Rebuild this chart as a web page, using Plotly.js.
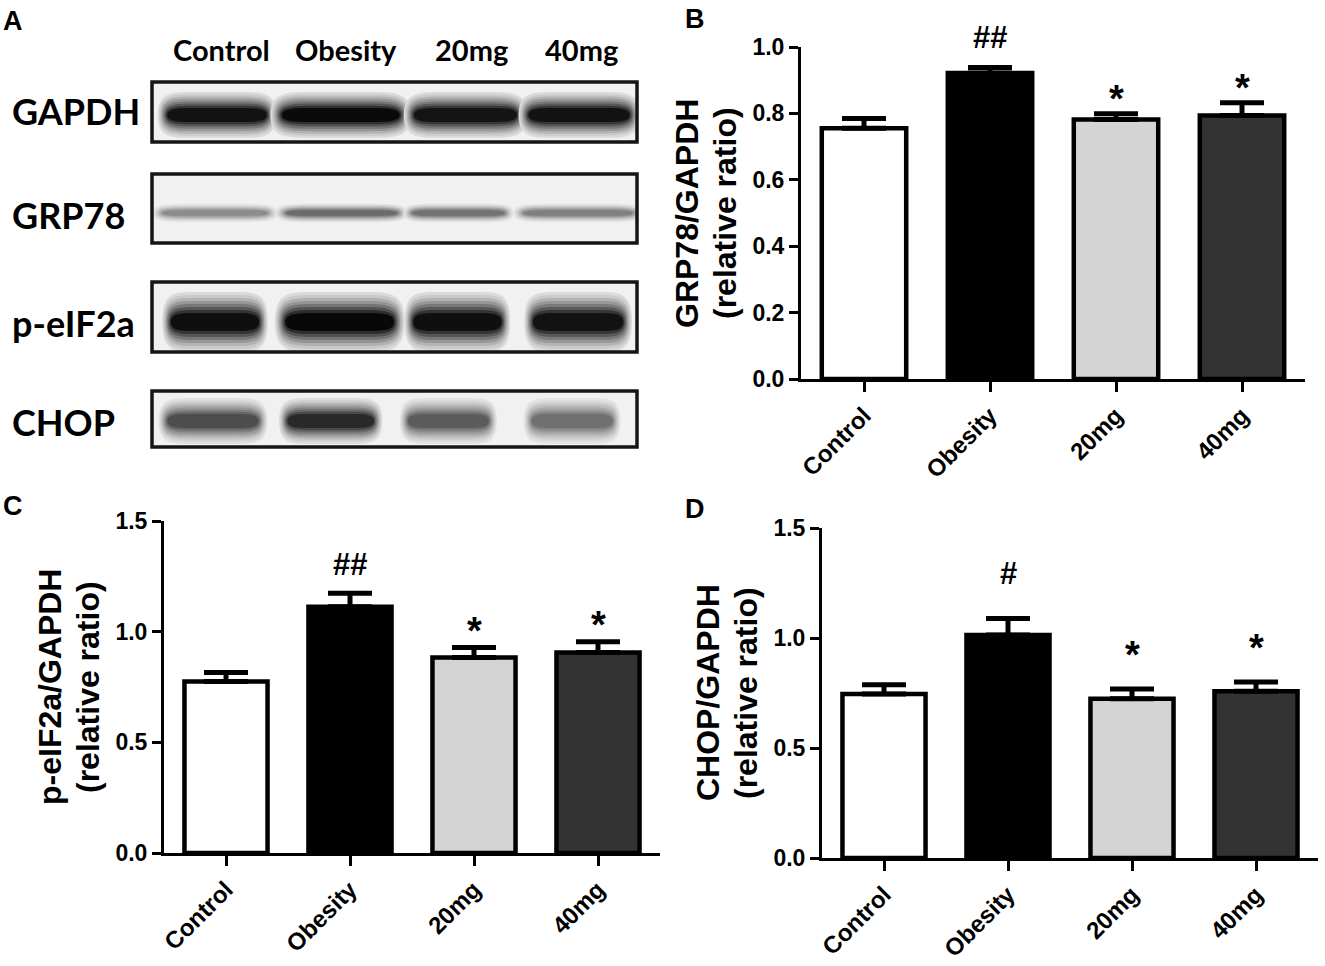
<!DOCTYPE html>
<html><head><meta charset="utf-8">
<script src="https://cdn.plot.ly/plotly-3.0.1.min.js"></script>
<style>html,body{margin:0;padding:0;background:#fff}</style>
</head><body>
<div id="chart" style="width:1325px;height:966px"></div>
<script>
// ---------------- data ----------------
const groups = ['Control', 'Obesity', '20mg', '40mg'];
const barColors = ['#ffffff', '#000000', '#d4d4d4', '#333333'];

// Panel B: GRP78/GAPDH
const grp78Mean = [0.755, 0.922, 0.782, 0.794];
const grp78Err  = [0.030, 0.016, 0.017, 0.038];
const grp78Sig  = ['', '##', '*', '*'];

// Panel C: p-eIF2a/GAPDH
const peif2aMean = [0.775, 1.113, 0.883, 0.906];
const peif2aErr  = [0.040, 0.061, 0.045, 0.049];
const peif2aSig  = ['', '##', '*', '*'];

// Panel D: CHOP/GAPDH
const chopMean = [0.746, 1.014, 0.724, 0.758];
const chopErr  = [0.042, 0.075, 0.044, 0.042];
const chopSig  = ['', '#', '*', '*'];

// Panel A: western blot band darkness (0 = blank, 1 = black)
const proteins = ['GAPDH', 'GRP78', 'p-eIF2a', 'CHOP'];
const gapdhBand  = [0.93, 0.96, 0.92, 0.93];
const grp78Band  = [0.45, 0.58, 0.55, 0.50];
const peif2aBand = [0.94, 0.97, 0.94, 0.93];
const chopBand   = [0.70, 0.84, 0.64, 0.56];

// ---------------- layout helpers ----------------
const W = 1325, H = 966;
const PX = (a, b) => [a / W, b / W];
const PY = (top, bottom) => [1 - bottom / H, 1 - top / H];
const FONT = 'Liberation Sans, Arial, Helvetica, sans-serif';
const BLOTFONT = 'Lato, Open Sans, sans-serif';

function barTrace(mean, err, xa, ya) {
  return {
    type: 'bar', x: groups, y: mean, xaxis: xa, yaxis: ya, width: 0.67,
    marker: { color: barColors, line: { color: '#000', width: 4.5 } },
    error_y: { type: 'data', symmetric: false, array: err, arrayminus: err.map(() => 0),
               color: '#000', thickness: 5, width: 22 },
    hoverinfo: 'skip', showlegend: false
  };
}
function xAx(px, anchor) {
  return {
    domain: PX(px[0], px[1]), anchor: anchor, type: 'category', range: [-0.5, 3.5],
    showline: true, linecolor: '#000', linewidth: 3, ticks: 'outside', ticklen: 10,
    tickwidth: 3, tickcolor: '#000', tickangle: -45, showgrid: false, zeroline: false,
    tickfont: { family: FONT, size: 24, color: '#000', weight: 'bold' }, fixedrange: true
  };
}
function yAx(py, anchor, range, dtick) {
  return {
    domain: PY(py[0], py[1]), anchor: anchor, range: range, dtick: dtick, tick0: 0,
    tickformat: '.1f', showline: true, linecolor: '#000', linewidth: 3, ticks: 'outside',
    ticklen: 9, tickwidth: 3, tickcolor: '#000', showgrid: false, zeroline: false,
    tickfont: { family: FONT, size: 23, color: '#000', weight: 'bold' }, fixedrange: true
  };
}
function sigAnns(sig, mean, err, xa, ya, shiftHash, shiftStar) {
  const out = [];
  groups.forEach((g, i) => {
    if (!sig[i]) return;
    const isHash = sig[i].indexOf('#') >= 0;
    out.push({ xref: xa, yref: ya, x: g, y: mean[i] + err[i], text: sig[i], showarrow: false,
      yanchor: 'bottom', yshift: isHash ? shiftHash : shiftStar,
      font: { family: FONT, size: isHash ? 31 : 38, color: '#000', weight: 'bold' } });
  });
  return out;
}
function titleAnns(l1, l2, axisPx, topPx, botPx) {
  const yc = 1 - (topPx + botPx) / 2 / H;
  const f = { family: FONT, size: 32, color: '#000', weight: 'bold' };
  return [
    { xref: 'paper', yref: 'paper', x: (axisPx - 114) / W, y: yc, text: l1, textangle: -90,
      showarrow: false, xanchor: 'center', yanchor: 'middle', font: f },
    { xref: 'paper', yref: 'paper', x: (axisPx - 76) / W, y: yc, text: l2, textangle: -90,
      showarrow: false, xanchor: 'center', yanchor: 'middle', font: f }
  ];
}
function panelLetter(t, xpx, ypx) {
  return { xref: 'paper', yref: 'paper', x: xpx / W, y: 1 - ypx / H, text: t, showarrow: false,
    xanchor: 'left', yanchor: 'top', font: { family: FONT, size: 27, color: '#000', weight: 'bold' } };
}

// ---------------- panel A (blot) geometry/styling ----------------
const LANE_PX = 120.7, LANE0_PX = 217, BOX_L = 152, BOX_R = 637;
const headerShift = [0, 4, 9, -2];
const blotStyle = {
  'GAPDH':   { box: [82, 142],  yc: 115, h: 20, dx: [0, 3, 7, 0],     w: [108, 128, 112, 110], bands: gapdhBand,  ly: 111 },
  'GRP78':   { box: [174, 243], yc: 213, h: 8,  dx: [-2, 4, 0, -1],   w: [114, 120, 100, 118], bands: grp78Band,  ly: 215 },
  'p-eIF2a': { box: [282, 352], yc: 322, h: 26, dx: [-2, 2, -1, -1],  w: [96, 118, 96, 98],    bands: peif2aBand, ly: 323 },
  'CHOP':    { box: [391, 447], yc: 421, h: 20, dx: [-4, -7, -10, -7], w: [99, 94, 88, 88],    bands: chopBand,   ly: 422 }
};
const BG = 241;
function grayHex(v) { const g = Math.max(0, Math.min(255, Math.round(v))); const s = g.toString(16).padStart(2, '0'); return '#' + s + s + s; }
function bandPath(xc, wl, yc, h) {
  const l = xc - wl / 2, r = xc + wl / 2, t = yc - h / 2, b = yc + h / 2, k = wl * 0.3;
  return 'M' + l + ',' + yc + ' C' + l + ',' + t + ' ' + (l + k * 0.4) + ',' + t + ' ' + (l + k) + ',' + t + ' L' + (r - k) + ',' + t +
    ' C' + (r - k * 0.4) + ',' + t + ' ' + r + ',' + t + ' ' + r + ',' + yc +
    ' C' + r + ',' + b + ' ' + (r - k * 0.4) + ',' + b + ' ' + (r - k) + ',' + b +
    ' L' + (l + k) + ',' + b + ' C' + (l + k * 0.4) + ',' + b + ' ' + l + ',' + b + ' ' + l + ',' + yc + ' Z';
}
const shapes = [];
const blotAnns = [];
const layers = [];
for (let j = 0; j < 8; j++) {
  const t = j / 7; // 0 outer -> 1 inner
  layers.push({ sw: 1.10 - 0.18 * t, sh: 2.3 - 1.6 * t, m: 0.10 + 0.90 * Math.pow(t, 1.3) });
}
proteins.forEach((p) => {
  const st = blotStyle[p];
  shapes.push({ type: 'rect', xref: 'x3 domain', yref: 'y3', x0: 0, x1: 1, y0: st.box[0], y1: st.box[1],
    fillcolor: '#f1f1f1', line: { width: 0 }, layer: 'above' });
  groups.forEach((g, i) => {
    const target = 255 * (1 - st.bands[i]);
    layers.forEach((ly) => {
      const xc = i + st.dx[i] / LANE_PX;
      const wl = st.w[i] * ly.sw / LANE_PX;
      shapes.push({ type: 'path', xref: 'x3', yref: 'y3', path: bandPath(xc, wl, st.yc, st.h * ly.sh),
        fillcolor: grayHex(BG + (target - BG) * ly.m), line: { width: 0 }, layer: 'above' });
    });
  });
  shapes.push({ type: 'rect', xref: 'x3 domain', yref: 'y3', x0: 0, x1: 1, y0: st.box[0], y1: st.box[1],
    fillcolor: 'rgba(0,0,0,0)', line: { color: '#151515', width: 3.5 }, layer: 'above' });
  blotAnns.push({ xref: 'paper', yref: 'y3', x: 10 / W, y: st.ly, text: p, showarrow: false,
    xanchor: 'left', yanchor: 'middle', font: { family: BLOTFONT, size: 36, color: '#000', weight: 'bold' } });
});
groups.forEach((g, i) => {
  blotAnns.push({ xref: 'x3', yref: 'y3', x: i, xshift: 4 + headerShift[i], y: 49, text: g, showarrow: false,
    xanchor: 'center', yanchor: 'middle', font: { family: BLOTFONT, size: 29, color: '#000', weight: 'bold' } });
});

// ---------------- assemble ----------------
const traces = [
  barTrace(grp78Mean, grp78Err, 'x', 'y'),
  barTrace(peif2aMean, peif2aErr, 'x2', 'y2'),
  barTrace(chopMean, chopErr, 'x4', 'y4')
];

const annotations = [].concat(
  sigAnns(grp78Sig, grp78Mean, grp78Err, 'x', 'y', 11, -8),
  sigAnns(peif2aSig, peif2aMean, peif2aErr, 'x2', 'y2', 9, -6),
  sigAnns(chopSig, chopMean, chopErr, 'x4', 'y4', 25, 11),
  titleAnns('GRP78/GAPDH', '(relative ratio)', 801, 47, 379),
  titleAnns('p-eIF2a/GAPDH', '(relative ratio)', 164, 521, 853),
  titleAnns('CHOP/GAPDH', '(relative ratio)', 822, 528, 858),
  [panelLetter('A', 1, 4), panelLetter('B', 683, 2), panelLetter('C', 1, 489), panelLetter('D', 683, 492)],
  blotAnns
);

const layout = {
  width: W, height: H, margin: { l: 0, r: 0, t: 0, b: 0, pad: 0 },
  paper_bgcolor: '#ffffff', plot_bgcolor: 'rgba(0,0,0,0)', showlegend: false,
  xaxis: xAx([801, 1305], 'y'),  yaxis: yAx([47, 379], 'x', [0, 1.0], 0.2),
  xaxis2: xAx([164, 660], 'y2'), yaxis2: yAx([521, 853], 'x2', [0, 1.5], 0.5),
  xaxis4: xAx([822, 1318], 'y4'), yaxis4: yAx([528, 858], 'x4', [0, 1.5], 0.5),
  xaxis3: { domain: PX(BOX_L, BOX_R), anchor: 'y3', visible: false, fixedrange: true,
            range: [(BOX_L - LANE0_PX) / LANE_PX, (BOX_R - LANE0_PX) / LANE_PX] },
  yaxis3: { domain: PY(0, 469), anchor: 'x3', visible: false, fixedrange: true, range: [469, 0] },
  shapes: shapes,
  annotations: annotations
};

Plotly.newPlot('chart', traces, layout, { displayModeBar: false, staticPlot: true });
</script>
</body></html>
